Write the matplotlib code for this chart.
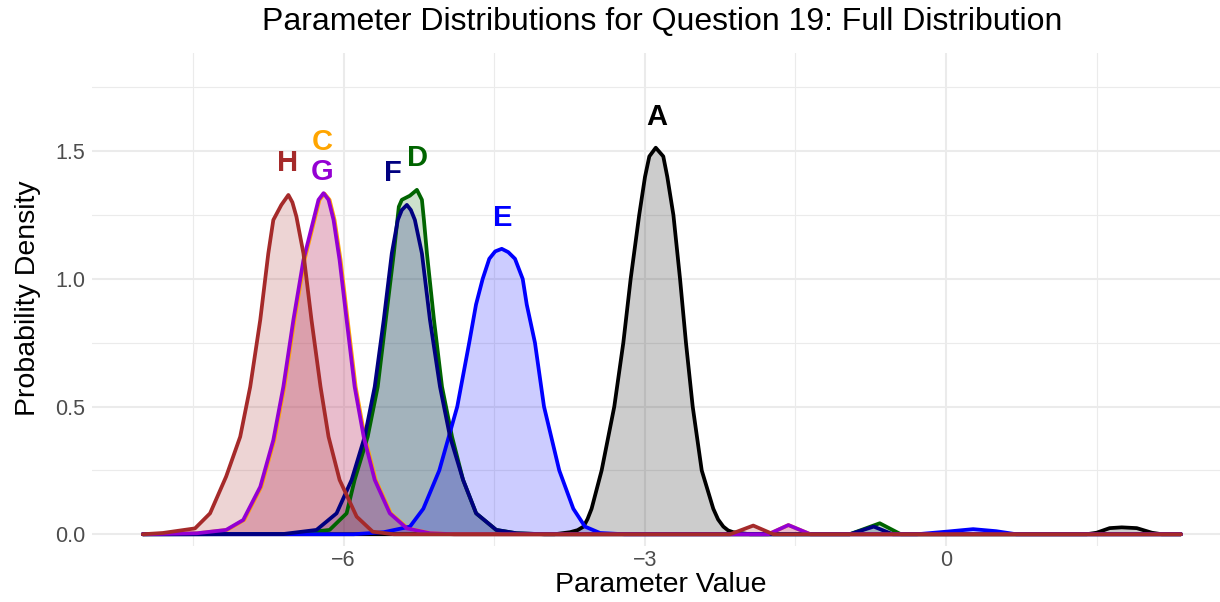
import numpy as np
import matplotlib.pyplot as plt

plt.rcParams['font.family'] = ['Liberation Sans', 'DejaVu Sans']

# density curves (x, density)
a_x = [-8.0, -3.90, -3.745, -3.67, -3.61, -3.57, -3.53, -3.43, -3.304, -3.214, -3.141, -3.056,
       -2.998, -2.955, -2.891, -2.816, -2.776, -2.715, -2.649, -2.59, -2.523, -2.433,
       -2.318, -2.27, -2.218, -2.17, -2.12, -1.95,
       1.40, 1.50, 1.63, 1.75, 1.90, 2.05, 2.15, 2.34]
a_y = [0.0, 0.0, 0.008, 0.016, 0.03, 0.06, 0.1, 0.25, 0.5, 0.75, 1.0, 1.25,
       1.4, 1.48, 1.514, 1.48, 1.4, 1.25, 1.0, 0.75, 0.5, 0.25,
       0.1, 0.058, 0.03, 0.015, 0.008, 0.0,
       0.0, 0.006, 0.024, 0.027, 0.024, 0.006, 0.0, 0.0]

c_x = [-8.0, -7.45, -7.16, -6.99, -6.82, -6.69, -6.59, -6.49, -6.39, -6.29, -6.24, -6.19,
       -6.14, -6.09, -6.03, -5.96, -5.88, -5.79, -5.68, -5.53, -5.36, -5.13, -4.9,
       -1.77, -1.57, -1.35, 2.34]
c_y = [0.0, 0.004, 0.017, 0.056, 0.186, 0.369, 0.578, 0.84, 1.074, 1.231, 1.31, 1.334,
       1.31, 1.231, 1.074, 0.84, 0.578, 0.382, 0.213, 0.082, 0.023, 0.004, 0.0,
       0.0, 0.036, 0.0, 0.0]

d_x = [-8.0, -6.5, -6.14, -5.97, -5.89, -5.76, -5.66, -5.58, -5.50, -5.45, -5.42, -5.34,
       -5.27, -5.22, -5.20, -5.17, -5.10, -5.02, -4.92, -4.81, -4.68, -4.48, -4.28, -4.0,
       -0.96, -0.66, -0.45, 2.34]
d_y = [0.0, 0.001, 0.017, 0.082, 0.213, 0.382, 0.578, 0.84, 1.10, 1.283, 1.31, 1.326,
       1.349, 1.31, 1.231, 1.10, 0.84, 0.578, 0.382, 0.213, 0.082, 0.017, 0.004, 0.0,
       0.0, 0.043, 0.0, 0.0]

e_x = [-8.0, -5.9, -5.6, -5.339, -5.206, -5.047, -4.868, -4.749, -4.681, -4.615, -4.549,
       -4.49, -4.425, -4.36, -4.293, -4.216, -4.176, -4.094, -4.004, -3.852, -3.712,
       -3.596, -3.446, -3.2, -0.29, 0.0, 0.27, 0.5, 0.70, 2.34]
e_y = [0.0, 0.0, 0.008, 0.03, 0.1, 0.25, 0.5, 0.75, 0.9, 1.0, 1.079,
       1.108, 1.118, 1.105, 1.079, 1.0, 0.9, 0.75, 0.5, 0.25, 0.1,
       0.03, 0.005, 0.0, 0.0, 0.01, 0.02, 0.012, 0.0, 0.0]

f_x = [-8.0, -6.6, -6.27, -6.07, -5.92, -5.79, -5.69, -5.60, -5.52, -5.46, -5.42, -5.37,
       -5.33, -5.29, -5.22, -5.14, -5.04, -4.94, -4.81, -4.68, -4.48, -4.28, -4.0,
       -0.96, -0.72, -0.53, 2.34]
f_y = [0.0, 0.001, 0.017, 0.082, 0.213, 0.382, 0.578, 0.84, 1.10, 1.231, 1.27, 1.29,
       1.27, 1.231, 1.10, 0.84, 0.578, 0.382, 0.213, 0.082, 0.017, 0.004, 0.0,
       0.0, 0.03, 0.0, 0.0]

g_x = [-8.0, -7.46, -7.17, -7.0, -6.83, -6.70, -6.60, -6.50, -6.40, -6.30, -6.25, -6.20,
       -6.15, -6.10, -6.04, -5.97, -5.89, -5.80, -5.69, -5.54, -5.37, -5.14, -4.9,
       -1.77, -1.57, -1.35, 2.34]
g_y = [0.0, 0.004, 0.017, 0.056, 0.186, 0.369, 0.578, 0.84, 1.074, 1.231, 1.31, 1.336,
       1.31, 1.231, 1.074, 0.84, 0.578, 0.382, 0.213, 0.082, 0.023, 0.004, 0.0,
       0.0, 0.036, 0.0, 0.0]

h_x = [-8.0, -7.8, -7.48, -7.33, -7.17, -7.03, -6.93, -6.83, -6.75, -6.70, -6.62, -6.55,
       -6.51, -6.47, -6.40, -6.32, -6.23, -6.15, -6.04, -5.87, -5.71, -5.5,
       -2.15, -1.92, -1.72, 2.34]
h_y = [0.0, 0.005, 0.023, 0.082, 0.226, 0.382, 0.578, 0.84, 1.10, 1.231, 1.29, 1.329,
       1.30, 1.244, 1.10, 0.84, 0.578, 0.382, 0.213, 0.069, 0.01, 0.0,
       0.0, 0.034, 0.0, 0.0]

labels = ['A', 'C', 'D', 'E', 'F', 'G', 'H']
colors = ['black', 'orange', 'darkgreen', 'blue', 'navy', 'darkviolet', 'brown']
curves = [(a_x, a_y), (c_x, c_y), (d_x, d_y), (e_x, e_y), (f_x, f_y), (g_x, g_y), (h_x, h_y)]

# label positions above each peak
label_x = [-2.88, -6.21, -5.26, -4.41, -5.51, -6.21, -6.56]
label_y = [1.633, 1.537, 1.474, 1.239, 1.415, 1.419, 1.454]

fig = plt.figure(figsize=(12.2, 6.02), dpi=100)
ax = fig.add_axes([92 / 1220, 1 - 546 / 602, 1128 / 1220, 493 / 602])

for (x, y), col in zip(curves, colors):
    ax.fill_between(x, y, 0, color=col, alpha=0.2, lw=0)
    ax.plot(x, y, color=col, lw=2.7, solid_joinstyle='round', solid_capstyle='round')

for lab, lx, ly, col in zip(labels, label_x, label_y, colors):
    ax.text(lx, ly, lab, color=col, fontsize=21, fontweight='bold', ha='center', va='center')

ax.set_xlim(-8.506, 2.729)
ax.set_ylim(-0.046, 1.885)
ax.set_xticks([-6, -3, 0])
ax.set_xticklabels(['\u22126', '\u22123', '0'])
ax.set_xticks([-7.5, -4.5, -1.5, 1.5], minor=True)
ax.set_yticks([0.0, 0.5, 1.0, 1.5])
ax.set_yticklabels(['0.0', '0.5', '1.0', '1.5'])
ax.set_yticks([0.25, 0.75, 1.25, 1.75], minor=True)
ax.grid(which='major', color='#EBEBEB', lw=1.5)
ax.grid(which='minor', color='#EBEBEB', lw=0.8)
ax.set_axisbelow(True)
ax.tick_params(which='both', length=0, labelsize=15.5, labelcolor='#4D4D4D')
ax.tick_params(axis='x', pad=3)
ax.tick_params(axis='y', pad=5)
for s in ax.spines.values():
    s.set_visible(False)

fig.text(662 / 1220, 1 - 22 / 602, 'Parameter Distributions for Question 19: Full Distribution',
         fontsize=23, ha='center', va='center')
fig.text(661 / 1220, 1 - 585 / 602, 'Parameter Value', fontsize=20.5, ha='center', va='center')
fig.text(28 / 1220, 1 - 298 / 602, 'Probability Density', fontsize=20.5, ha='center', va='center',
         rotation=90)

fig.savefig('out.png', dpi=100)
